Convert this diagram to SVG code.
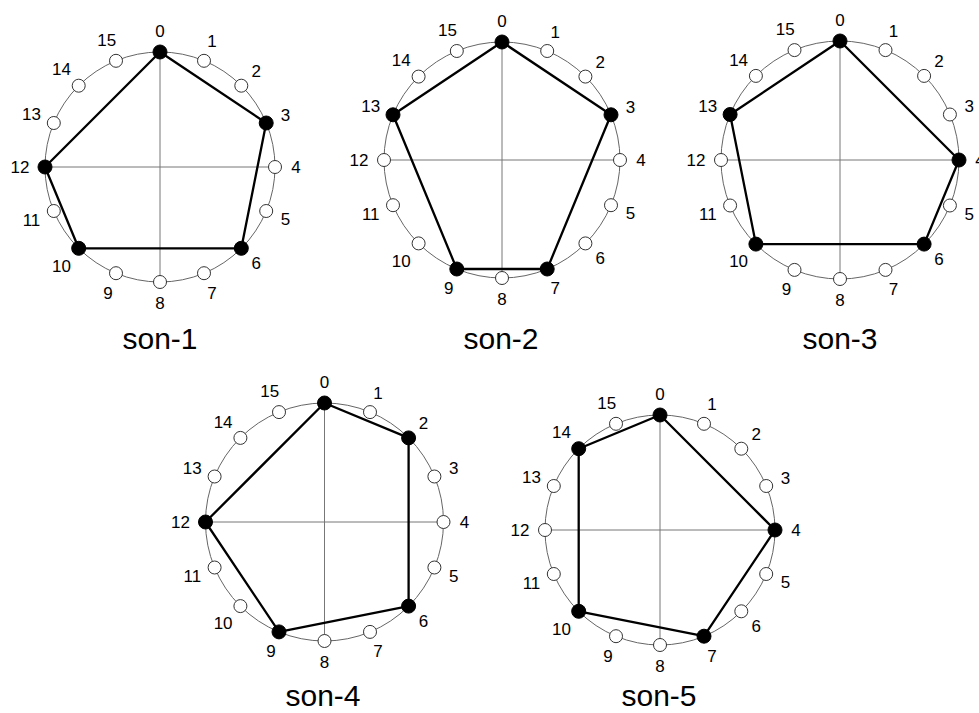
<svg xmlns="http://www.w3.org/2000/svg" width="979" height="713" viewBox="0 0 979 713">
<style>
.ring{fill:none;stroke:#666;stroke-width:1}
.axis{fill:none;stroke:#777;stroke-width:1}
.edges polygon{fill:none;stroke:#000;stroke-width:2.3;stroke-linejoin:round}
.on circle{fill:#000;stroke:#000;stroke-width:1}
.off circle{fill:#fff;stroke:#333;stroke-width:1}
text{font-family:"Liberation Sans",Arial,Helvetica,sans-serif;fill:#000}
.lbl{font-size:17px;text-anchor:middle}
.title{font-size:30px;text-anchor:middle}
</style>
<rect width="979" height="713" fill="#fff"/>

<!-- son-1 -->
<g id="son-1" transform="translate(160,167)">
<circle class="ring" r="115"/>
<path class="axis" d="M0,-115V115M-115,0H115"/>
<g id="son-1-edges" class="edges"><polygon points="0,-115 106.2,-44 81.3,81.3 -81.3,81.3 -115,0"/></g>
<g id="son-1-n0" class="on"><circle cx="0" cy="-115" r="7"/><text class="lbl" x="0" y="-130">0</text></g>
<g id="son-1-n1" class="off"><circle cx="44" cy="-106.2" r="6.5"/><text class="lbl" x="52" y="-119.6">1</text></g>
<g id="son-1-n2" class="off"><circle cx="81.3" cy="-81.3" r="6.5"/><text class="lbl" x="96.2" y="-90.2">2</text></g>
<g id="son-1-n3" class="on"><circle cx="106.2" cy="-44" r="7"/><text class="lbl" x="125.6" y="-46">3</text></g>
<g id="son-1-n4" class="off"><circle cx="115" cy="0" r="6.5"/><text class="lbl" x="136" y="6">4</text></g>
<g id="son-1-n5" class="off"><circle cx="106.2" cy="44" r="6.5"/><text class="lbl" x="125.6" y="58">5</text></g>
<g id="son-1-n6" class="on"><circle cx="81.3" cy="81.3" r="7"/><text class="lbl" x="96.2" y="102.2">6</text></g>
<g id="son-1-n7" class="off"><circle cx="44" cy="106.2" r="6.5"/><text class="lbl" x="52" y="131.6">7</text></g>
<g id="son-1-n8" class="off"><circle cx="0" cy="115" r="6.5"/><text class="lbl" x="0" y="142">8</text></g>
<g id="son-1-n9" class="off"><circle cx="-44" cy="106.2" r="6.5"/><text class="lbl" x="-52" y="131.6">9</text></g>
<g id="son-1-n10" class="on"><circle cx="-81.3" cy="81.3" r="7"/><text class="lbl" x="-98.6" y="104.6">10</text></g>
<g id="son-1-n11" class="off"><circle cx="-106.2" cy="44" r="6.5"/><text class="lbl" x="-128.5" y="58.8">11</text></g>
<g id="son-1-n12" class="on"><circle cx="-115" cy="0" r="7"/><text class="lbl" x="-140" y="6">12</text></g>
<g id="son-1-n13" class="off"><circle cx="-106.2" cy="-44" r="6.5"/><text class="lbl" x="-128.5" y="-46.8">13</text></g>
<g id="son-1-n14" class="off"><circle cx="-81.3" cy="-81.3" r="6.5"/><text class="lbl" x="-98.6" y="-91.6">14</text></g>
<g id="son-1-n15" class="off"><circle cx="-44" cy="-106.2" r="6.5"/><text class="lbl" x="-53.3" y="-121.5">15</text></g>
<text class="title" x="0" y="182">son-1</text>
</g>

<!-- son-2 -->
<g id="son-2" transform="translate(502,160)">
<circle class="ring" r="118"/>
<path class="axis" d="M0,-118V118M-118,0H118"/>
<g id="son-2-edges" class="edges"><polygon points="0,-118 109,-45.2 45.2,109 -45.2,109 -109,-45.2"/></g>
<g id="son-2-n0" class="on"><circle cx="0" cy="-118" r="7"/><text class="lbl" x="0" y="-133">0</text></g>
<g id="son-2-n1" class="off"><circle cx="45.2" cy="-109" r="6.5"/><text class="lbl" x="53.2" y="-122.4">1</text></g>
<g id="son-2-n2" class="off"><circle cx="83.4" cy="-83.4" r="6.5"/><text class="lbl" x="98.3" y="-92.3">2</text></g>
<g id="son-2-n3" class="on"><circle cx="109" cy="-45.2" r="7"/><text class="lbl" x="128.4" y="-47.2">3</text></g>
<g id="son-2-n4" class="off"><circle cx="118" cy="0" r="6.5"/><text class="lbl" x="139" y="6">4</text></g>
<g id="son-2-n5" class="off"><circle cx="109" cy="45.2" r="6.5"/><text class="lbl" x="128.4" y="59.2">5</text></g>
<g id="son-2-n6" class="off"><circle cx="83.4" cy="83.4" r="6.5"/><text class="lbl" x="98.3" y="104.3">6</text></g>
<g id="son-2-n7" class="on"><circle cx="45.2" cy="109" r="7"/><text class="lbl" x="53.2" y="134.4">7</text></g>
<g id="son-2-n8" class="off"><circle cx="0" cy="118" r="6.5"/><text class="lbl" x="0" y="145">8</text></g>
<g id="son-2-n9" class="on"><circle cx="-45.2" cy="109" r="7"/><text class="lbl" x="-53.2" y="134.4">9</text></g>
<g id="son-2-n10" class="off"><circle cx="-83.4" cy="83.4" r="6.5"/><text class="lbl" x="-100.7" y="106.7">10</text></g>
<g id="son-2-n11" class="off"><circle cx="-109" cy="45.2" r="6.5"/><text class="lbl" x="-131.3" y="60">11</text></g>
<g id="son-2-n12" class="off"><circle cx="-118" cy="0" r="6.5"/><text class="lbl" x="-143" y="6">12</text></g>
<g id="son-2-n13" class="on"><circle cx="-109" cy="-45.2" r="7"/><text class="lbl" x="-131.3" y="-48">13</text></g>
<g id="son-2-n14" class="off"><circle cx="-83.4" cy="-83.4" r="6.5"/><text class="lbl" x="-100.7" y="-93.7">14</text></g>
<g id="son-2-n15" class="off"><circle cx="-45.2" cy="-109" r="6.5"/><text class="lbl" x="-54.5" y="-124.3">15</text></g>
<text class="title" x="-1" y="189">son-2</text>
</g>

<!-- son-3 -->
<g id="son-3" transform="translate(840,160)">
<circle class="ring" r="119"/>
<path class="axis" d="M0,-119V119M-119,0H119"/>
<g id="son-3-edges" class="edges"><polygon points="0,-119 119,0 84.1,84.1 -84.1,84.1 -109.9,-45.5"/></g>
<g id="son-3-n0" class="on"><circle cx="0" cy="-119" r="7"/><text class="lbl" x="0" y="-134">0</text></g>
<g id="son-3-n1" class="off"><circle cx="45.5" cy="-109.9" r="6.5"/><text class="lbl" x="53.6" y="-123.3">1</text></g>
<g id="son-3-n2" class="off"><circle cx="84.1" cy="-84.1" r="6.5"/><text class="lbl" x="99" y="-93">2</text></g>
<g id="son-3-n3" class="off"><circle cx="109.9" cy="-45.5" r="6.5"/><text class="lbl" x="129.3" y="-47.6">3</text></g>
<g id="son-3-n4" class="on"><circle cx="119" cy="0" r="7"/><text class="lbl" x="140" y="6">4</text></g>
<g id="son-3-n5" class="off"><circle cx="109.9" cy="45.5" r="6.5"/><text class="lbl" x="129.3" y="59.6">5</text></g>
<g id="son-3-n6" class="on"><circle cx="84.1" cy="84.1" r="7"/><text class="lbl" x="99" y="105">6</text></g>
<g id="son-3-n7" class="off"><circle cx="45.5" cy="109.9" r="6.5"/><text class="lbl" x="53.6" y="135.3">7</text></g>
<g id="son-3-n8" class="off"><circle cx="0" cy="119" r="6.5"/><text class="lbl" x="0" y="146">8</text></g>
<g id="son-3-n9" class="off"><circle cx="-45.5" cy="109.9" r="6.5"/><text class="lbl" x="-53.6" y="135.3">9</text></g>
<g id="son-3-n10" class="on"><circle cx="-84.1" cy="84.1" r="7"/><text class="lbl" x="-101.4" y="107.4">10</text></g>
<g id="son-3-n11" class="off"><circle cx="-109.9" cy="45.5" r="6.5"/><text class="lbl" x="-132.2" y="60.3">11</text></g>
<g id="son-3-n12" class="off"><circle cx="-119" cy="0" r="6.5"/><text class="lbl" x="-144" y="6">12</text></g>
<g id="son-3-n13" class="on"><circle cx="-109.9" cy="-45.5" r="7"/><text class="lbl" x="-132.2" y="-48.3">13</text></g>
<g id="son-3-n14" class="off"><circle cx="-84.1" cy="-84.1" r="6.5"/><text class="lbl" x="-101.4" y="-94.4">14</text></g>
<g id="son-3-n15" class="off"><circle cx="-45.5" cy="-109.9" r="6.5"/><text class="lbl" x="-54.8" y="-125.2">15</text></g>
<text class="title" x="0" y="189">son-3</text>
</g>

<!-- son-4 -->
<g id="son-4" transform="translate(324.5,522)">
<circle class="ring" r="119"/>
<path class="axis" d="M0,-119V119M-119,0H119"/>
<g id="son-4-edges" class="edges"><polygon points="0,-119 84.1,-84.1 84.1,84.1 -45.5,109.9 -119,0"/></g>
<g id="son-4-n0" class="on"><circle cx="0" cy="-119" r="7"/><text class="lbl" x="0" y="-134">0</text></g>
<g id="son-4-n1" class="off"><circle cx="45.5" cy="-109.9" r="6.5"/><text class="lbl" x="53.6" y="-123.3">1</text></g>
<g id="son-4-n2" class="on"><circle cx="84.1" cy="-84.1" r="7"/><text class="lbl" x="99" y="-93">2</text></g>
<g id="son-4-n3" class="off"><circle cx="109.9" cy="-45.5" r="6.5"/><text class="lbl" x="129.3" y="-47.6">3</text></g>
<g id="son-4-n4" class="off"><circle cx="119" cy="0" r="6.5"/><text class="lbl" x="140" y="6">4</text></g>
<g id="son-4-n5" class="off"><circle cx="109.9" cy="45.5" r="6.5"/><text class="lbl" x="129.3" y="59.6">5</text></g>
<g id="son-4-n6" class="on"><circle cx="84.1" cy="84.1" r="7"/><text class="lbl" x="99" y="105">6</text></g>
<g id="son-4-n7" class="off"><circle cx="45.5" cy="109.9" r="6.5"/><text class="lbl" x="53.6" y="135.3">7</text></g>
<g id="son-4-n8" class="off"><circle cx="0" cy="119" r="6.5"/><text class="lbl" x="0" y="146">8</text></g>
<g id="son-4-n9" class="on"><circle cx="-45.5" cy="109.9" r="7"/><text class="lbl" x="-53.6" y="135.3">9</text></g>
<g id="son-4-n10" class="off"><circle cx="-84.1" cy="84.1" r="6.5"/><text class="lbl" x="-101.4" y="107.4">10</text></g>
<g id="son-4-n11" class="off"><circle cx="-109.9" cy="45.5" r="6.5"/><text class="lbl" x="-132.2" y="60.3">11</text></g>
<g id="son-4-n12" class="on"><circle cx="-119" cy="0" r="7"/><text class="lbl" x="-144" y="6">12</text></g>
<g id="son-4-n13" class="off"><circle cx="-109.9" cy="-45.5" r="6.5"/><text class="lbl" x="-132.2" y="-48.3">13</text></g>
<g id="son-4-n14" class="off"><circle cx="-84.1" cy="-84.1" r="6.5"/><text class="lbl" x="-101.4" y="-94.4">14</text></g>
<g id="son-4-n15" class="off"><circle cx="-45.5" cy="-109.9" r="6.5"/><text class="lbl" x="-54.8" y="-125.2">15</text></g>
<text class="title" x="-1.5" y="184">son-4</text>
</g>

<!-- son-5 -->
<g id="son-5" transform="translate(660,530)">
<circle class="ring" r="115"/>
<path class="axis" d="M0,-115V115M-115,0H115"/>
<g id="son-5-edges" class="edges"><polygon points="0,-115 115,0 44,106.2 -81.3,81.3 -81.3,-81.3"/></g>
<g id="son-5-n0" class="on"><circle cx="0" cy="-115" r="7"/><text class="lbl" x="0" y="-130">0</text></g>
<g id="son-5-n1" class="off"><circle cx="44" cy="-106.2" r="6.5"/><text class="lbl" x="52" y="-119.6">1</text></g>
<g id="son-5-n2" class="off"><circle cx="81.3" cy="-81.3" r="6.5"/><text class="lbl" x="96.2" y="-90.2">2</text></g>
<g id="son-5-n3" class="off"><circle cx="106.2" cy="-44" r="6.5"/><text class="lbl" x="125.6" y="-46">3</text></g>
<g id="son-5-n4" class="on"><circle cx="115" cy="0" r="7"/><text class="lbl" x="136" y="6">4</text></g>
<g id="son-5-n5" class="off"><circle cx="106.2" cy="44" r="6.5"/><text class="lbl" x="125.6" y="58">5</text></g>
<g id="son-5-n6" class="off"><circle cx="81.3" cy="81.3" r="6.5"/><text class="lbl" x="96.2" y="102.2">6</text></g>
<g id="son-5-n7" class="on"><circle cx="44" cy="106.2" r="7"/><text class="lbl" x="52" y="131.6">7</text></g>
<g id="son-5-n8" class="off"><circle cx="0" cy="115" r="6.5"/><text class="lbl" x="0" y="142">8</text></g>
<g id="son-5-n9" class="off"><circle cx="-44" cy="106.2" r="6.5"/><text class="lbl" x="-52" y="131.6">9</text></g>
<g id="son-5-n10" class="on"><circle cx="-81.3" cy="81.3" r="7"/><text class="lbl" x="-98.6" y="104.6">10</text></g>
<g id="son-5-n11" class="off"><circle cx="-106.2" cy="44" r="6.5"/><text class="lbl" x="-128.5" y="58.8">11</text></g>
<g id="son-5-n12" class="off"><circle cx="-115" cy="0" r="6.5"/><text class="lbl" x="-140" y="6">12</text></g>
<g id="son-5-n13" class="off"><circle cx="-106.2" cy="-44" r="6.5"/><text class="lbl" x="-128.5" y="-46.8">13</text></g>
<g id="son-5-n14" class="on"><circle cx="-81.3" cy="-81.3" r="7"/><text class="lbl" x="-98.6" y="-91.6">14</text></g>
<g id="son-5-n15" class="off"><circle cx="-44" cy="-106.2" r="6.5"/><text class="lbl" x="-53.3" y="-121.5">15</text></g>
<text class="title" x="-1" y="176">son-5</text>
</g>
</svg>
